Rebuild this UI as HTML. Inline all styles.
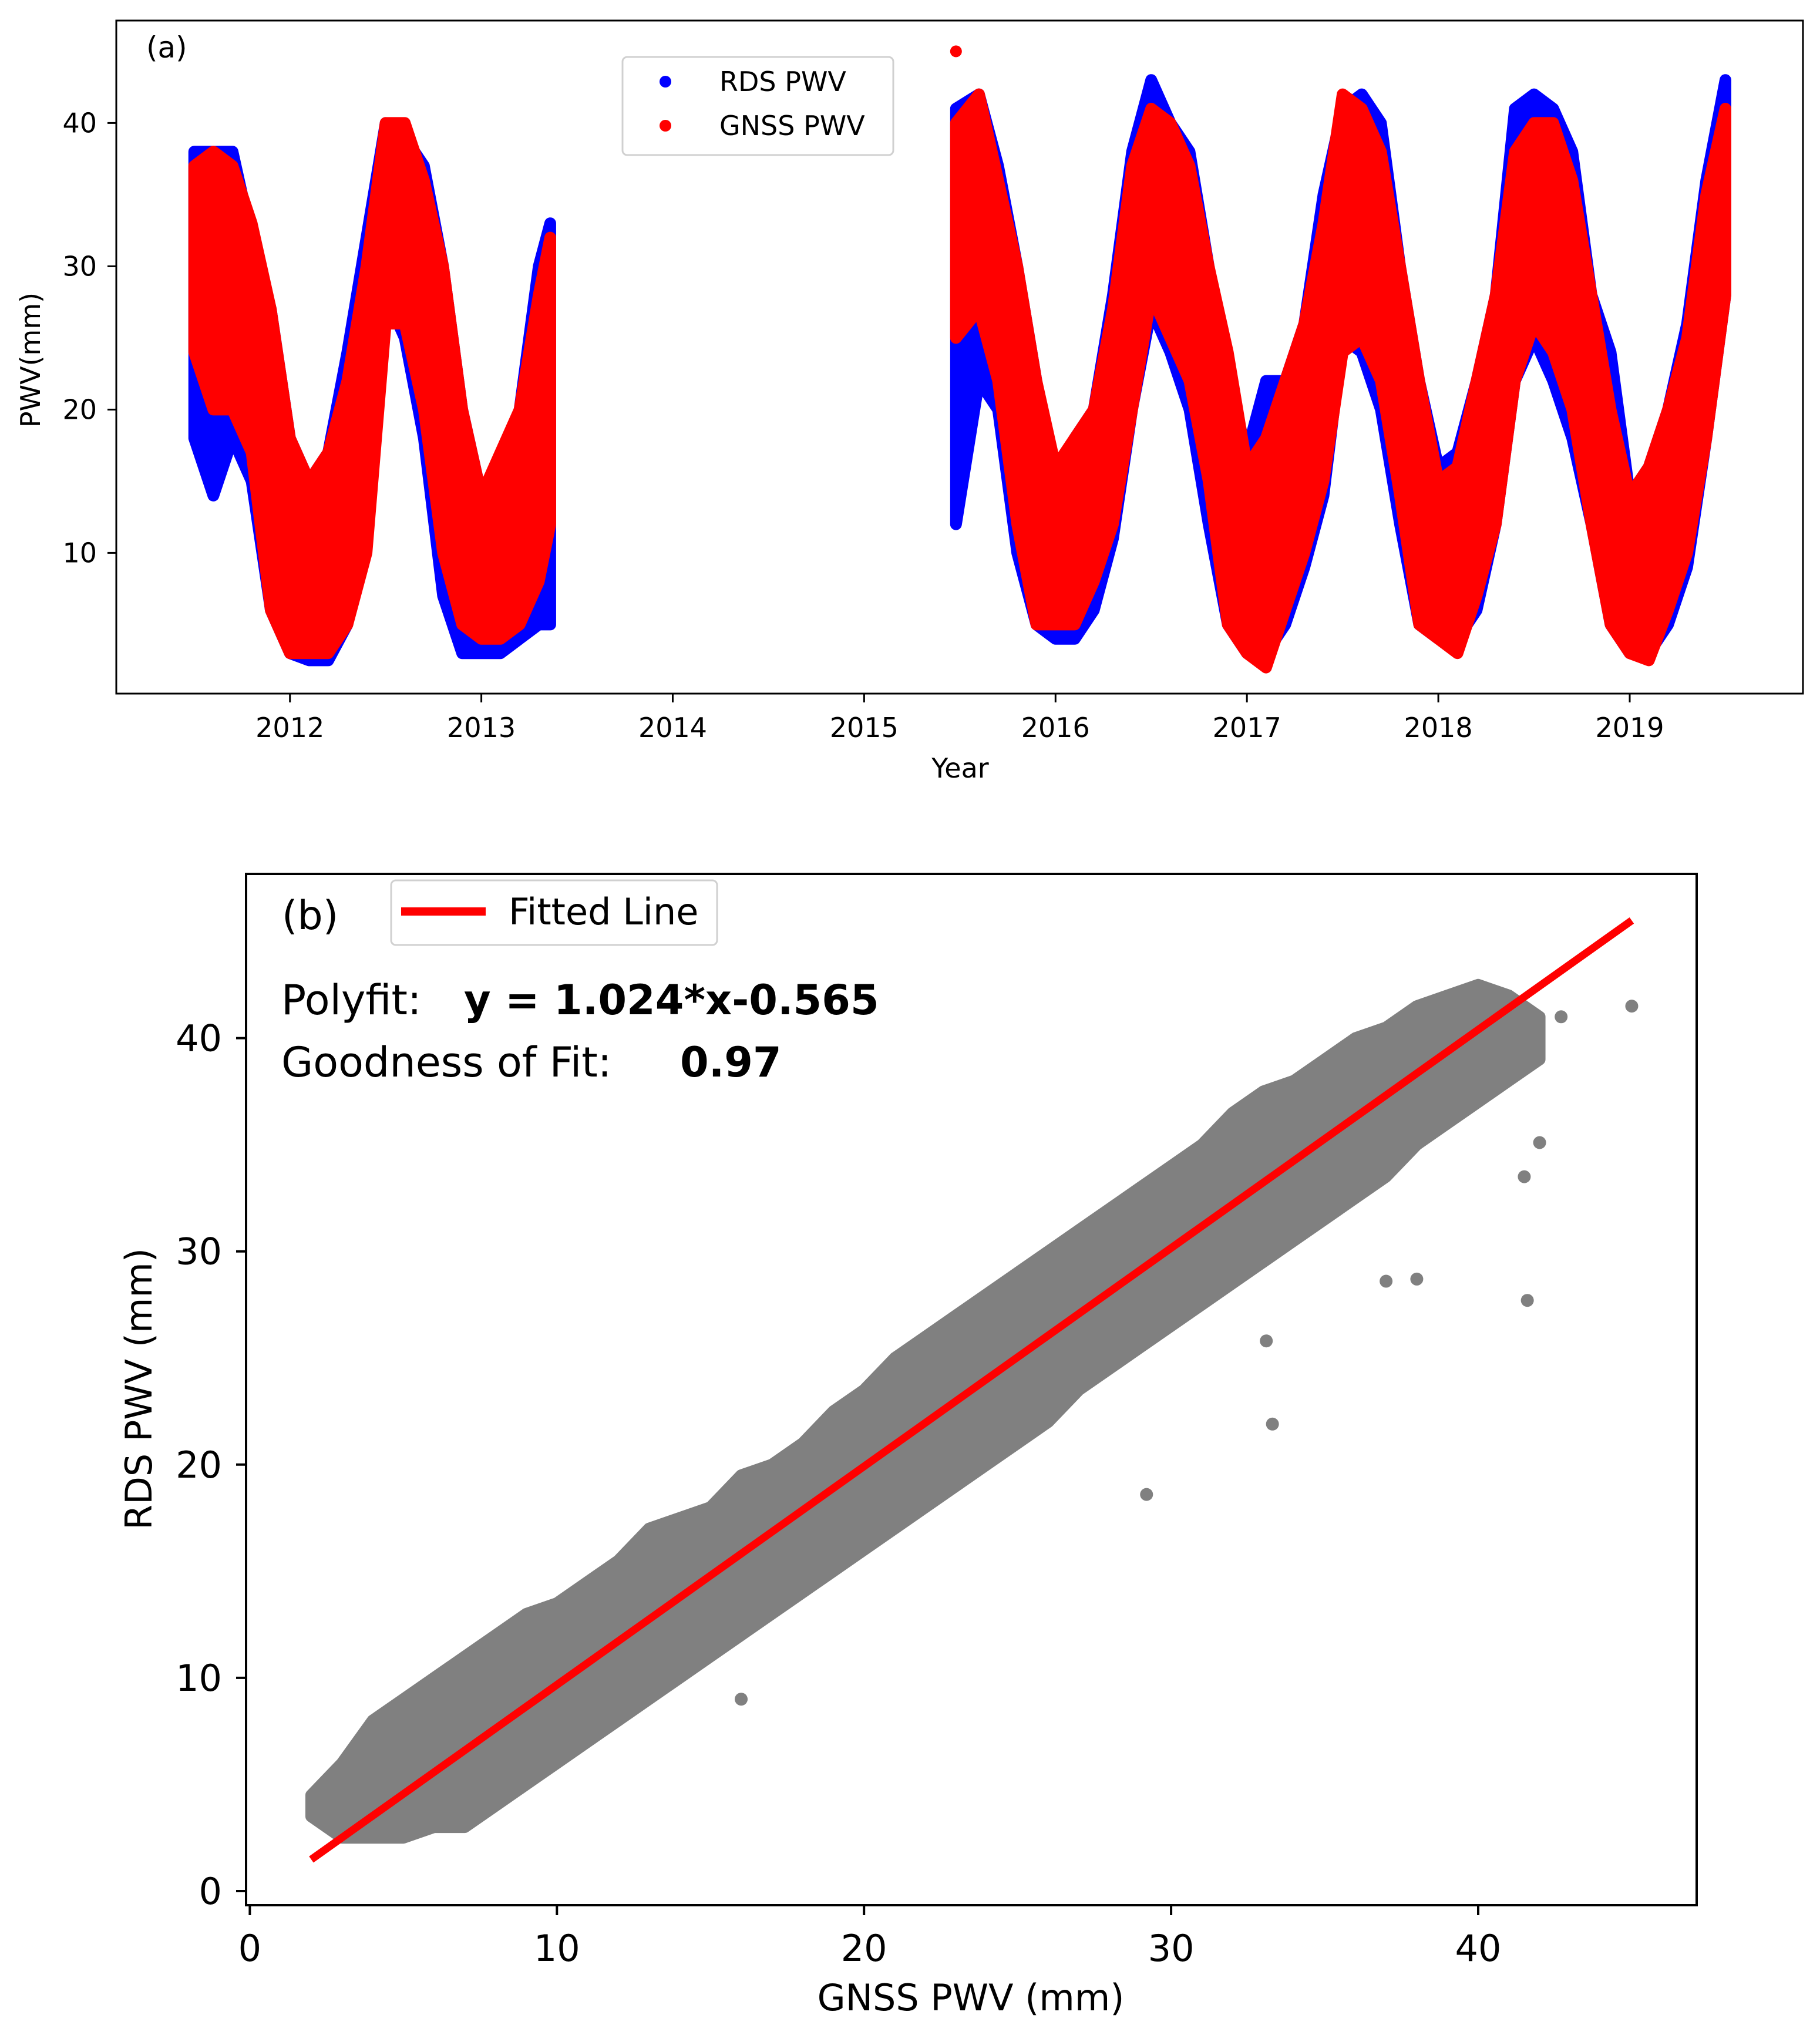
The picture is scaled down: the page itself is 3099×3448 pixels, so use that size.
<!DOCTYPE html>
<html><head><meta charset="utf-8"><style>
html,body{margin:0;padding:0;background:#fff;}
svg{display:block;font-family:"DejaVu Sans","Liberation Sans",sans-serif;}
</style></head><body>
<svg id="fig" width="3099" height="3448" viewBox="0 0 3099 3448" xmlns="http://www.w3.org/2000/svg">
<rect x="0" y="0" width="3099" height="3448" fill="#fff"/>
<g id="pa"></g>
<g id="pb"></g>
</svg>
<script>
// ---- Panel (a) data ----
const yearsA1 = [2011.5,2011.6,2011.7,2011.8,2011.9,2012.0,2012.1,2012.2,2012.3,2012.4,2012.5,2012.6,2012.7,2012.8,2012.9,2013.0,2013.1,2013.2,2013.3,2013.36];
const gnssLoA1 = [24,20,20,17,6,3,3,3,5,10,26,26,20,10,5,4,4,5,8,12];
const gnssHiA1 = [37,38,37,33,27,18,15,17,22,30,40,40,36,30,20,14,17,20,28,32];
const rdsLoA1 = [18,14,18,15,6,3,2.5,2.5,5,12,28,25,18,7,3,3,3,4,5,5];
const rdsHiA1 = [38,38,38,32,27,18,15,17,24,32,40,39,37,30,20,14,16,20,30,33];
const yearsA2 = [2015.48,2015.6,2015.7,2015.8,2015.9,2016.0,2016.1,2016.2,2016.3,2016.4,2016.5,2016.6,2016.7,2016.8,2016.9,2017.0,2017.1,2017.2,2017.3,2017.4,2017.5,2017.6,2017.7,2017.8,2017.9,2018.0,2018.1,2018.2,2018.3,2018.4,2018.5,2018.6,2018.7,2018.8,2018.9,2019.0,2019.1,2019.2,2019.3,2019.4,2019.5];
const gnssLoA2 = [25,27,22,12,5,5,5,8,12,20,28,25,22,15,5,3,2,6,10,15,24,25,22,14,5,4,3,7,12,22,26,24,20,12,5,3,2.5,6,10,18,28];
const gnssHiA2 = [40,42,36,30,22,16,18,20,27,37,41,40,37,30,24,16,18,22,26,33,42,41,38,30,22,15,16,22,28,38,40,40,36,28,20,14,16,20,25,35,41];
const rdsLoA2 = [12,22,20,10,5,4,4,6,11,20,27,24,20,12,5,3,3,5,9,14,25,24,20,12,5,4,4,6,12,22,25,22,18,12,5,3,3,5,9,18,28];
const rdsHiA2 = [41,42,37,30,22,15,18,20,28,38,43,40,38,30,22,17,22,22,26,35,41,42,40,30,22,16,17,22,28,41,42,41,38,28,24,14,16,20,26,36,43];
const gnssOutlierYears = [2015.48];
const gnssOutlierVals = [45];
const yTicksA = [10,20,30,40];
const xTicksA = [2012,2013,2014,2015,2016,2017,2018,2019];

// ---- Panel (b) data ----
const gnssBinsB = [2,3,4,5,6,7,8,9,10,11,12,13,14,15,16,17,18,19,20,21,22,23,24,25,26,27,28,29,30,31,32,33,34,35,36,37,38,39,40,41,42];
const rdsLoB = [3.5,2.5,2.5,2.5,3,3,4,5,6,7,8,9,10,11,12,13,14,15,16,17,18,19,20,21,22,23.5,24.5,25.5,26.5,27.5,28.5,29.5,30.5,31.5,32.5,33.5,35,36,37,38,39];
const rdsHiB = [4.5,6,8,9,10,11,12,13,13.5,14.5,15.5,17,17.5,18,19.5,20,21,22.5,23.5,25,26,27,28,29,30,31,32,33,34,35,36.5,37.5,38,39,40,40.5,41.5,42,42.5,42,41];
const outlierX = [29.2,33.3,33.1,41.6,41.5,42,45,42.7,38,37,16];
const outlierY = [18.6,21.9,25.8,27.7,33.5,35.1,41.5,41,28.7,28.6,9];
const fitCoef = [1.024,-0.565];
const fitRange = [2,45];
const ticksB = [0,10,20,30,40];

const NS='http://www.w3.org/2000/svg';
function mk(tag,attrs,parent,text){const e=document.createElementNS(NS,tag);for(const k in attrs)e.setAttribute(k,attrs[k]);if(text!==undefined)e.textContent=text;parent.appendChild(e);return e;}

const xA = y => 493.7 + (y-2012)*325.9;
const yA = v => 209.4 + (40-v)*24.4;
const xB = v => 425.4 + v*52.29;
const yB = v => 3220 - v*36.31;

const pa = document.getElementById('pa');
const pb = document.getElementById('pb');

function envelope(parent, xs, lo, hi, fx, fy, color, name){
  const pts=[];
  xs.forEach((x,i)=>pts.push(fx(x)+','+fy(hi[i])));
  for(let i=xs.length-1;i>=0;i--) pts.push(fx(xs[i])+','+fy(lo[i]));
  const p=mk('polygon',{points:pts.join(' '),fill:color,stroke:color,'stroke-width':20,'stroke-linejoin':'round'},parent);
  
  
}

// ---------- Panel A ----------
envelope(pa, yearsA1, rdsLoA1, rdsHiA1, xA, yA, '#0000ff', 'rds-pwv-series');
envelope(pa, yearsA2, rdsLoA2, rdsHiA2, xA, yA, '#0000ff', 'rds-pwv-series');
envelope(pa, yearsA1, gnssLoA1, gnssHiA1, xA, yA, '#ff0000', 'gnss-pwv-series');
envelope(pa, yearsA2, gnssLoA2, gnssHiA2, xA, yA, '#ff0000', 'gnss-pwv-series');
gnssOutlierYears.forEach((yr,i)=>{
  const c=mk('circle',{cx:xA(yr),cy:yA(gnssOutlierVals[i]),r:10,fill:'#ff0000'},pa);
  
  
});
let fr=mk('rect',{x:198,y:35,width:2872,height:1146,fill:'none',stroke:'#000','stroke-width':3},pa);


yTicksA.forEach(v=>{
  mk('line',{x1:183,x2:198,y1:yA(v),y2:yA(v),stroke:'#000','stroke-width':3},pa);
  const t=mk('text',{x:165,y:yA(v)+16,'font-size':46,'text-anchor':'end'},pa,String(v));
  
  
});
xTicksA.forEach(v=>{
  mk('line',{x1:xA(v),x2:xA(v),y1:1181,y2:1196,stroke:'#000','stroke-width':3},pa);
  const t=mk('text',{x:xA(v),y:1255,'font-size':46,'text-anchor':'middle'},pa,String(v));
  
  
});
let t;
t=mk('text',{x:1635,y:1324,'font-size':46,'text-anchor':'middle'},pa,'Year');


t=mk('text',{x:68,y:613,'font-size':46,'text-anchor':'middle',transform:'rotate(-90 68 613)'},pa,'PWV(mm)');


t=mk('text',{x:249,y:98,'font-size':50},pa,'(a)');


const lgA=mk('g',{},pa);


mk('rect',{x:1060,y:97,width:461,height:167,rx:8,fill:'#fff',stroke:'#d0d0d0','stroke-width':3},lgA);
mk('circle',{cx:1133,cy:139,r:10,fill:'#0000ff'},lgA);
mk('circle',{cx:1133,cy:214,r:10,fill:'#ff0000'},lgA);
t=mk('text',{x:1225,y:155,'font-size':46},lgA,'RDS PWV');


t=mk('text',{x:1225,y:230,'font-size':46},lgA,'GNSS PWV');



// ---------- Panel B ----------
envelope(pb, gnssBinsB, rdsLoB, rdsHiB, xB, yB, '#808080', 'scatter-points');
outlierX.forEach((g,i)=>{
  const c=mk('circle',{cx:xB(g),cy:yB(outlierY[i]),r:11,fill:'#808080'},pb);
  
  
});
const fl=mk('line',{x1:xB(fitRange[0]),y1:yB(fitCoef[0]*fitRange[0]+fitCoef[1]),x2:xB(fitRange[1]),y2:yB(fitCoef[0]*fitRange[1]+fitCoef[1]),stroke:'#ff0000','stroke-width':13},pb);


fr=mk('rect',{x:419,y:1488,width:2470,height:1756,fill:'none',stroke:'#000','stroke-width':4},pb);


ticksB.forEach(v=>{
  mk('line',{x1:402,x2:419,y1:yB(v),y2:yB(v),stroke:'#000','stroke-width':4},pb);
  let tt=mk('text',{x:378,y:yB(v)+22,'font-size':62,'text-anchor':'end'},pb,String(v));
  
  
  mk('line',{x1:xB(v),x2:xB(v),y1:3244,y2:3261,stroke:'#000','stroke-width':4},pb);
  tt=mk('text',{x:xB(v),y:3339,'font-size':62,'text-anchor':'middle'},pb,String(v));
  
  
});
t=mk('text',{x:1653,y:3423,'font-size':62,'text-anchor':'middle'},pb,'GNSS PWV (mm)');


t=mk('text',{x:258,y:2365,'font-size':62,'text-anchor':'middle',transform:'rotate(-90 258 2365)'},pb,'RDS PWV (mm)');


t=mk('text',{x:480,y:1582,'font-size':68},pb,'(b)');


const lgB=mk('g',{},pb);


mk('rect',{x:666,y:1499,width:555,height:110,rx:8,fill:'#fff',stroke:'#d0d0d0','stroke-width':3},lgB);
mk('line',{x1:683,x2:827,y1:1552,y2:1552,stroke:'#ff0000','stroke-width':14},lgB);
t=mk('text',{x:866,y:1574,'font-size':62},lgB,'Fitted Line');


t=mk('text',{x:479,y:1727,'font-size':70},pb,'Polyfit:');


t=mk('text',{x:790,y:1727,'font-size':70,'font-weight':'bold'},pb,'y = 1.024*x-0.565');


t=mk('text',{x:479,y:1833,'font-size':70},pb,'Goodness of Fit:');


t=mk('text',{x:1158,y:1833,'font-size':70,'font-weight':'bold'},pb,'0.97');


</script>
</body></html>
